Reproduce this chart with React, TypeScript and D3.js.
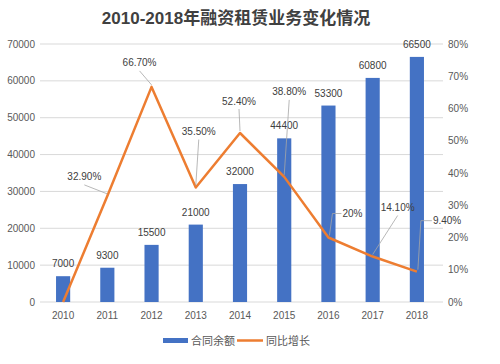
import React from 'react';
import * as d3 from 'd3';

const years = ['2010', '2011', '2012', '2013', '2014', '2015', '2016', '2017', '2018'];
const balance = [7000, 9300, 15500, 21000, 32000, 44400, 53300, 60800, 66500];
const growth = [0, 32.9, 66.7, 35.5, 52.4, 38.8, 20, 14.1, 9.4];
const growthLabels = ['', '32.90%', '66.70%', '35.50%', '52.40%', '38.80%', '20%', '14.10%', '9.40%'];
const leftTicks = [0, 10000, 20000, 30000, 40000, 50000, 60000, 70000];
const rightTicks = [0, 10, 20, 30, 40, 50, 60, 70, 80];

// label placement relative to the point: [dx, dy, leader type]
const labelPos: [number, number, string][] = [
  [0, 0, 'none'],
  [-23, -19, 'diag'],
  [-12, -24, 'diag'],
  [3, -56, 'diag'],
  [-1, -32, 'diag'],
  [5, -85, 'diag'],
  [24, -24, 'elbow'],
  [25, -49, 'diag'],
  [26, -51, 'elbow'],
];

const W = 500;
const H = 364;
const font = '"Liberation Sans", "Noto Sans CJK SC", sans-serif';
const textColor = '#595959';

export default function App() {
  const x = d3.scaleBand().domain(years).range([41, 439]).paddingInner(0.68).paddingOuter(0.34);
  const y = d3.scaleLinear().domain([0, 70000]).range([302, 44]);
  const y2 = d3.scaleLinear().domain([0, 80]).range([302, 44]);
  const bw = x.bandwidth();
  const cx = (d: string) => (x(d) ?? 0) + bw / 2;

  const line = d3.line<number>()
    .x((_, i) => cx(years[i]))
    .y(d => y2(d));

  return (
    <svg width={W} height={H} style={{ position: 'absolute', left: 0, top: 0, background: '#fff' }} fontFamily={font}>
      <text x={236} y={24} textAnchor="middle" fontSize={17} fontWeight="bold" fill="#404040">
        2010-2018年融资租赁业务变化情况
      </text>

      {leftTicks.map(t => (
        <g key={'g' + t}>
          <line x1={40} x2={443} y1={y(t)} y2={y(t)} stroke="#d9d9d9" strokeWidth={1} />
          <text x={35} y={y(t) + 3.5} textAnchor="end" fontSize={10} fill={textColor}>{t}</text>
        </g>
      ))}
      {rightTicks.map(t => (
        <text key={'r' + t} x={448} y={y2(t) + 3.5} fontSize={10} fill={textColor}>{t}%</text>
      ))}

      {years.map((yr, i) => (
        <g key={yr}>
          <rect x={x(yr)} y={y(balance[i])} width={bw} height={y(0) - y(balance[i])} fill="#4472C4" />
          <text x={cx(yr)} y={y(balance[i]) - 9} textAnchor="middle" fontSize={10} fill="#404040">{balance[i]}</text>
          <text x={cx(yr)} y={319} textAnchor="middle" fontSize={10} fill={textColor}>{yr}</text>
        </g>
      ))}

      <path d={line(growth) ?? ''} fill="none" stroke="#ED7D31" strokeWidth={2.5} strokeLinejoin="round" />

      {years.map((yr, i) => {
        const [dx, dy, kind] = labelPos[i];
        if (kind === 'none') return null;
        const px = cx(yr);
        const py = y2(growth[i]);
        const lx = px + dx;
        const ly = py + dy;
        let leader = '';
        if (kind === 'diag') {
          leader = `M${px},${py - 2}L${lx},${ly + 8}`;
        } else {
          leader = `M${px + 1},${py - 2}L${px + 4},${ly}L${lx - 11},${ly}`;
        }
        return (
          <g key={'p' + yr}>
            <path d={leader} fill="none" stroke="#a6a6a6" strokeWidth={0.8} />
            <text
              x={kind === 'elbow' ? lx - 10 : lx}
              y={ly + 3.5}
              textAnchor={kind === 'elbow' ? 'start' : 'middle'}
              fontSize={10}
              fill="#404040"
            >
              {growthLabels[i]}
            </text>
          </g>
        );
      })}

      <g fontSize={11} fill={textColor}>
        <rect x={163} y={338} width={25} height={5} fill="#4472C4" />
        <text x={191} y={345}>合同余额</text>
        <line x1={237} x2={263} y1={340.5} y2={340.5} stroke="#ED7D31" strokeWidth={2.5} />
        <text x={266} y={345}>同比增长</text>
      </g>
    </svg>
  );
}
